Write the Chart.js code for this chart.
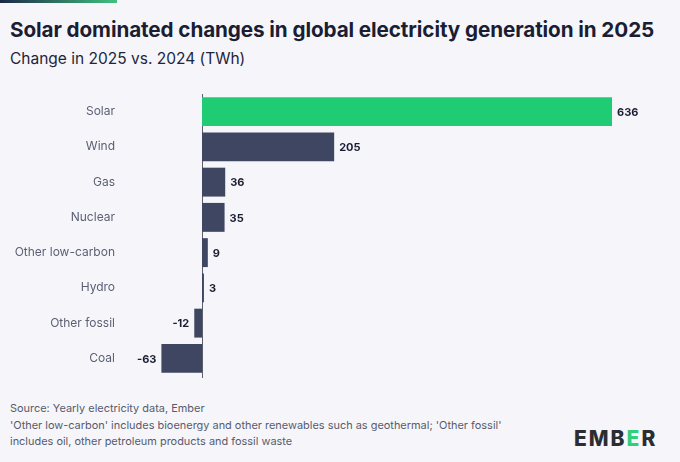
<!DOCTYPE html>
<html>
<head>
<meta charset="utf-8">
<script src="https://cdn.jsdelivr.net/npm/chart.js@4.4.1/dist/chart.umd.min.js"></script>
<style>
  html, body { margin:0; padding:0; background:#f6f6fa; }
  body { width:680px; height:462px; position:relative; overflow:hidden; font-family:"Inter","Open Sans",sans-serif; }
  #topbar { position:absolute; left:0; top:0; width:117px; height:3px; background:linear-gradient(90deg,#1d2748,#40c27e); }
  #title { position:absolute; left:10px; top:17px; font-weight:700; font-size:20.7px; color:#1b1e33; white-space:nowrap; letter-spacing:-0.1px; }
  #subtitle { position:absolute; left:10px; top:49px; font-weight:400; font-size:15.5px; color:#22253a; white-space:nowrap; }
  #chartwrap { position:absolute; left:0; top:85px; width:680px; height:300px; }
  #footer { position:absolute; left:10px; top:400px; font-size:10.95px; line-height:16.5px; color:#565b6e; white-space:nowrap; }
  #logo { position:absolute; left:574px; top:426px; font-weight:800; font-size:21px; letter-spacing:2px; color:#2b2d33; font-family:"Inter",sans-serif; }
  #logo span { color:#2fcf7e; }
</style>
</head>
<body>
<div id="topbar"></div>
<div id="title">Solar dominated changes in global electricity generation in 2025</div>
<div id="subtitle">Change in 2025 vs. 2024 (TWh)</div>
<div id="chartwrap"><canvas id="c"></canvas></div>
<div id="footer">Source: Yearly electricity data, Ember<br>'Other low-carbon' includes bioenergy and other renewables such as geothermal; 'Other fossil'<br>includes oil, other petroleum products and fossil waste</div>
<div id="logo">EMB<span>E</span>R</div>
<script>
const categories = ["Solar", "Wind", "Gas", "Nuclear", "Other low-carbon", "Hydro", "Other fossil", "Coal"];
const values = [636, 205, 36, 35, 9, 3, -12, -63];
const barColors = ["#1fcc74", "#3e4662", "#3e4662", "#3e4662", "#3e4662", "#3e4662", "#3e4662", "#3e4662"];

const zeroLine = {
  id: 'zeroLine',
  beforeDatasetsDraw(chart) {
    const ctx = chart.ctx;
    const x = Math.round(chart.scales.x.getPixelForValue(0)) + 0.5;
    const a = chart.chartArea;
    ctx.save();
    ctx.strokeStyle = '#5b5f6b';
    ctx.lineWidth = 1;
    ctx.beginPath();
    ctx.moveTo(x, a.top);
    ctx.lineTo(x, a.bottom + 2);
    ctx.stroke();
    ctx.restore();
  }
};

const valueLabels = {
  id: 'valueLabels',
  afterDatasetsDraw(chart) {
    const ctx = chart.ctx;
    const meta = chart.getDatasetMeta(0);
    ctx.save();
    ctx.font = '700 11px Inter, sans-serif';
    ctx.fillStyle = '#1b1e33';
    ctx.textBaseline = 'middle';
    meta.data.forEach((bar, i) => {
      const v = values[i];
      if (v >= 0) { ctx.textAlign = 'left'; ctx.fillText(String(v), bar.x + 5, bar.y + 1); }
      else { ctx.textAlign = 'right'; ctx.fillText(String(v), bar.x - 5, bar.y + 1); }
    });
    ctx.restore();
  }
};

new Chart(document.getElementById('c'), {
  type: 'bar',
  data: { labels: categories, datasets: [{ data: values, backgroundColor: barColors, borderWidth: 0, barPercentage: 0.82, categoryPercentage: 1 }] },
  options: {
    indexAxis: 'y',
    responsive: true,
    maintainAspectRatio: false,
    animation: false,
    layout: { padding: { top: 9, bottom: 9, left: 0, right: 40 } },
    plugins: { legend: { display: false }, tooltip: { enabled: false } },
    scales: {
      x: {
        display: false,
        min: -111.7, max: 679.4
      },
      y: {
        afterFit: (s) => { s.width = 130; s.paddingTop = 0; s.paddingBottom = 0; },
        grid: { display: false },
        border: { display: false },
        ticks: { padding: 7, color: '#5a5f73', font: { family: 'Inter, sans-serif', size: 12 } }
      }
    }
  },
  plugins: [zeroLine, valueLabels]
});
</script>
</body>
</html>
